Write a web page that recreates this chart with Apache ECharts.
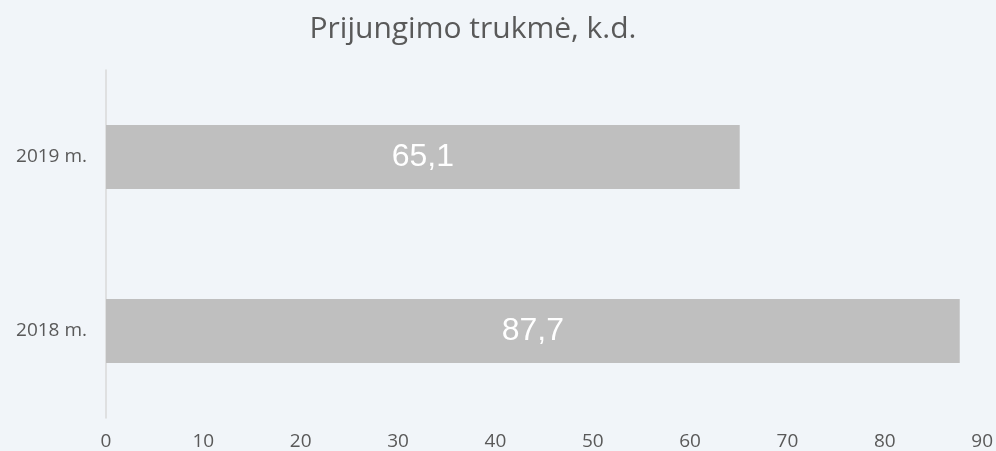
<!DOCTYPE html>
<html>
<head>
<meta charset="utf-8">
<script src="https://cdn.jsdelivr.net/npm/echarts@6/dist/echarts.min.js"></script>
<style>
  html, body { margin: 0; padding: 0; background: #f1f5f9; }
  #chart { width: 996px; height: 451px; }
</style>
</head>
<body>
<div id="chart"></div>
<script>
const categories = ['2018 m.', '2019 m.'];
const values = [87.7, 65.1];
const xTicks = [0, 10, 20, 30, 40, 50, 60, 70, 80, 90];

const myChart = echarts.init(document.getElementById('chart'));

const option = {
    backgroundColor: '#f1f5f9',
    textStyle: { fontFamily: 'Open Sans' },
    title: {
        text: 'Prijungimo trukmė, k.d.',
        left: 468,
        textAlign: 'center',
        top: 9,
        textStyle: {
            color: '#595959',
            fontSize: 30,
            fontWeight: 'normal',
            fontFamily: 'Open Sans'
        }
    },
    grid: { left: 106, right: 12, top: 70, bottom: 33 },
    xAxis: {
        type: 'value',
        min: xTicks[0],
        max: xTicks[xTicks.length - 1],
        interval: 10,
        axisLine: { show: false },
        axisTick: { show: false },
        splitLine: { show: false },
        axisLabel: { color: '#595959', fontSize: 19, fontFamily: 'Open Sans', margin: 14 }
    },
    yAxis: {
        type: 'category',
        data: categories,
        axisLine: { show: true, lineStyle: { color: '#d9d9d9', width: 1.5 } },
        axisTick: { show: false },
        axisLabel: { color: '#595959', fontSize: 19, fontFamily: 'Open Sans', margin: 19 }
    },
    series: [{
        type: 'bar',
        data: values,
        barWidth: 64,
        itemStyle: { color: '#bfbfbf' },
        label: {
            show: true,
            position: 'inside',
            color: '#ffffff',
            fontSize: 32,
            fontFamily: 'Liberation Sans',
            formatter: p => String(p.value).replace('.', ',')
        }
    }]
};

myChart.setOption(option);
window.addEventListener('resize', () => myChart.resize());
</script>
</body>
</html>
